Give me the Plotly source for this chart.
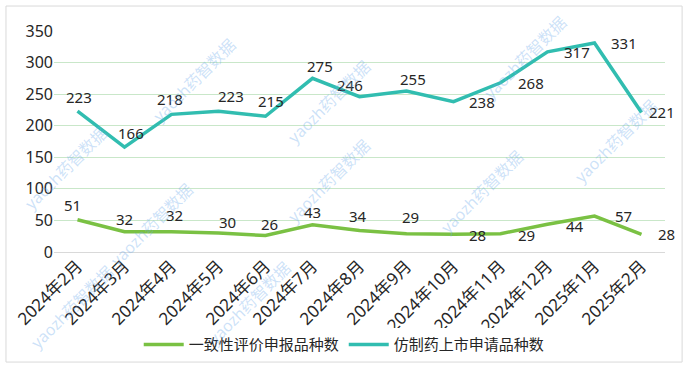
import plotly.graph_objects as go

months = ["2024年2月", "2024年3月", "2024年4月", "2024年5月", "2024年6月", "2024年7月",
          "2024年8月", "2024年9月", "2024年10月", "2024年11月", "2024年12月", "2025年1月", "2025年2月"]
consistency = [51, 32, 32, 30, 26, 43, 34, 29, 28, 29, 44, 57, 28]
generic = [223, 166, 218, 223, 215, 275, 246, 255, 238, 268, 317, 331, 221]
yticks = [0, 50, 100, 150, 200, 250, 300, 350]

name_c = "一致性评价申报品种数"
name_g = "仿制药上市申请品种数"

# label placement (style): (xshift, yshift) in px
pos_g = [(1, 14), (6, 14), (-2, 15), (12, 15), (5, 15), (7, 12), (-10, 12), (6, 12),
         (28, 0), (30, 0), (29, 0), (29, 0), (20, 0)]
pos_c = [(-5, 15), (0, 13), (3, 17), (9, 11), (4, 12), (0, 13), (-2, 15), (4, 17),
         (24, -1), (26, -1), (27, -2), (29, 0), (25, 0)]

GREEN = "#7AC143"
TEAL = "#31BDB0"
FONT = "Noto Sans, Noto Sans CJK SC, sans-serif"

fig = go.Figure()
fig.add_trace(go.Scatter(x=months, y=consistency, mode="lines", name=name_c,
                         line=dict(color=GREEN, width=3.5)))
fig.add_trace(go.Scatter(x=months, y=generic, mode="lines", name=name_g,
                         line=dict(color=TEAL, width=3.5)))

ann = []
for m, v, (dx, dy) in zip(months, generic, pos_g):
    ann.append(dict(x=m, y=v, text=str(v), showarrow=False, xshift=dx, yshift=dy,
                    font=dict(size=15, color="#262626", family=FONT)))
for m, v, (dx, dy) in zip(months, consistency, pos_c):
    ann.append(dict(x=m, y=v, text=str(v), showarrow=False, xshift=dx, yshift=dy,
                    font=dict(size=15, color="#262626", family=FONT)))

# watermarks
wm = [(0.15, 1.0), (0.45, 0.9), (0.85, 1.1), (1.0, 0.28), (-0.06, 0.38),
      (0.08, -0.1), (0.45, 0.1), (0.78, 0.05), (0.24, -0.45), (-0.05, -0.47)]
for wx, wy in wm:
    ann.append(dict(xref="paper", yref="paper", x=wx, y=wy, text="yaozh药智数据",
                    showarrow=False, textangle=-45,
                    font=dict(size=16, color="rgba(110,170,235,0.35)", family=FONT)))

fig.update_layout(
    width=687, height=368,
    margin=dict(l=54, r=22, t=31, b=116, autoexpand=False),
    paper_bgcolor="white", plot_bgcolor="white",
    font=dict(family=FONT, size=15, color="#262626"),
    showlegend=True,
    legend=dict(orientation="h", x=0.475, xanchor="center", y=-0.42, yanchor="middle",
                font=dict(size=15, color="#262626"), itemwidth=40, tracegroupgap=0),
    annotations=ann,
    shapes=[dict(type="rect", xref="paper", yref="paper", x0=-0.0786, x1=1.028,
                 y0=-0.498, y1=1.113, line=dict(color="#D9D9D9", width=1))],
)
fig.update_xaxes(type="category", range=[-0.5, 12.5], tickangle=-45, showgrid=False,
                 showline=False, ticks="", automargin=False,
                 tickfont=dict(size=17, color="#262626"))
fig.update_yaxes(range=[0, 350], tickvals=yticks, showgrid=True, gridcolor="#C9E7C9",
                 gridwidth=1, zeroline=True, zerolinecolor="#D9D9D9", zerolinewidth=1,
                 showline=False, ticks="", automargin=False,
                 tickfont=dict(size=16, color="#262626"))

fig.write_html("out.html", config={"displayModeBar": False},
               post_script="document.body.style.margin='0';document.body.style.overflow='hidden';")
